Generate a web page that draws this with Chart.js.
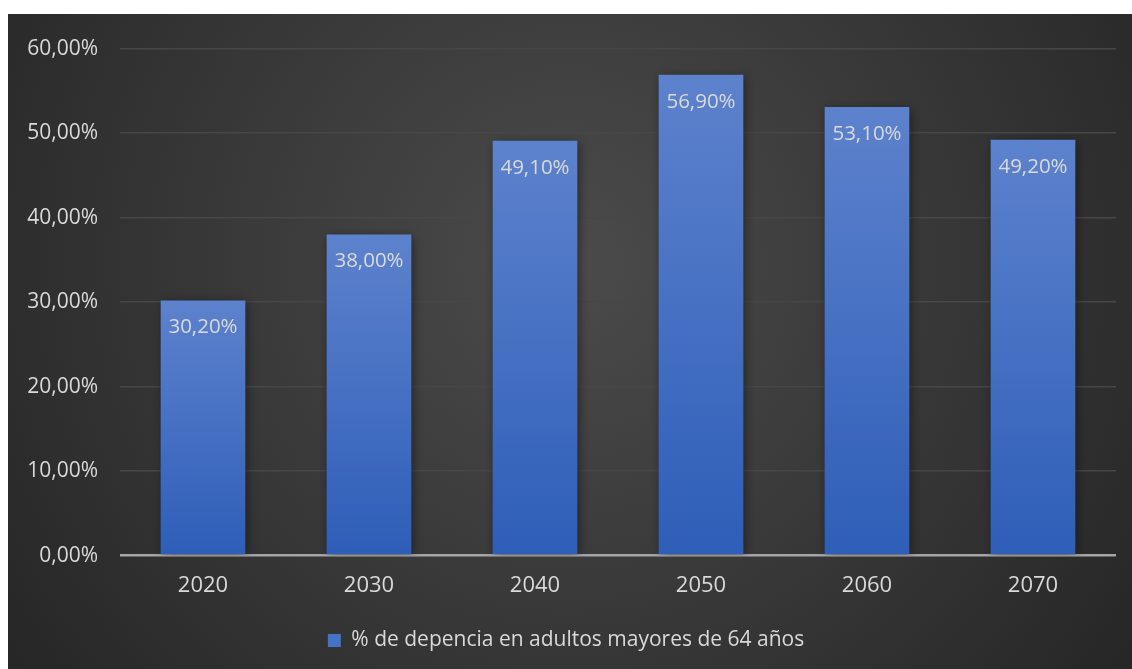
<!DOCTYPE html>
<html>
<head>
<meta charset="utf-8">
<script src="https://cdn.jsdelivr.net/npm/chart.js@4.4.1/dist/chart.umd.min.js"></script>
<style>
  html, body { margin: 0; padding: 0; background: #ffffff; }
  #wrap { position: absolute; left: 8px; top: 14px; width: 1124px; height: 655px; }
</style>
</head>
<body>
<div id="wrap"><canvas id="chart"></canvas></div>
<script>
// chart data
const years = ["2020", "2030", "2040", "2050", "2060", "2070"];
const dependencia = [30.2, 38.0, 49.1, 56.9, 53.1, 49.2];
const seriesName = "% de depencia en adultos mayores de 64 años";
const yTicks = [0, 10, 20, 30, 40, 50, 60];

const textColor = "#d9d9d9";
const fontFamily = "'Open Sans', 'Noto Sans', sans-serif";

const fmt = (v) => v.toFixed(2).replace(".", ",") + "%";

// dark radial background like the Excel style
const bgPlugin = {
  id: "bg",
  beforeDraw(chart) {
    const { ctx, width, height } = chart;
    const g = ctx.createRadialGradient(width * 0.5, height * 0.38, 0, width * 0.5, height * 0.38, width * 0.62);
    g.addColorStop(0, "#4b4b4b");
    g.addColorStop(1, "#262626");
    ctx.save();
    ctx.fillStyle = g;
    ctx.fillRect(0, 0, width, height);
    ctx.restore();
  },
};

// soft shadow behind the bars
const shadowPlugin = {
  id: "barShadow",
  beforeDatasetsDraw(chart) {
    const ctx = chart.ctx;
    ctx.save();
    ctx.shadowColor = "rgba(0,0,0,0.45)";
    ctx.shadowBlur = 10;
    ctx.shadowOffsetX = 2;
    ctx.shadowOffsetY = 2;
  },
  afterDatasetsDraw(chart) {
    chart.ctx.restore();
  },
};

// value labels inside the bar top
const labelPlugin = {
  id: "barLabels",
  afterDatasetsDraw(chart) {
    const ctx = chart.ctx;
    const meta = chart.getDatasetMeta(0);
    ctx.save();
    ctx.fillStyle = textColor;
    ctx.font = "20.5px " + fontFamily;
    ctx.textAlign = "center";
    ctx.textBaseline = "middle";
    meta.data.forEach((bar, i) => {
      ctx.fillText(fmt(dependencia[i]), bar.x, bar.y + 27);
    });
    ctx.restore();
  },
};

const ctx = document.getElementById("chart").getContext("2d");

new Chart(ctx, {
  type: "bar",
  data: {
    labels: years,
    datasets: [
      {
        label: seriesName,
        data: dependencia,
        backgroundColor: (context) => {
          const chart = context.chart;
          const area = chart.chartArea;
          if (!area || context.type !== "data") return "#4472c4";
          const top = chart.scales.y.getPixelForValue(context.parsed.y);
          const g = chart.ctx.createLinearGradient(0, top, 0, area.bottom);
          g.addColorStop(0, "#5d82cd");
          g.addColorStop(1, "#2e5eb8");
          return g;
        },
        borderWidth: 0,
        categoryPercentage: 1.0,
        barPercentage: 0.51,
      },
    ],
  },
  options: {
    responsive: true,
    maintainAspectRatio: false,
    animation: false,
    layout: {
      autoPadding: false,
      padding: { left: 8, right: 16, top: 24, bottom: 8 },
    },
    scales: {
      x: {
        grid: { display: false },
        border: { display: false },
        ticks: {
          color: textColor,
          font: { family: fontFamily, size: 22 },
          padding: 9,
        },
      },
      y: {
        min: 0,
        max: 60,
        afterBuildTicks: (scale) => {
          scale.ticks = yTicks.map((v) => ({ value: v }));
        },
        afterFit: (scale) => {
          scale.width = 104;
        },
        border: { display: false },
        grid: {
          color: (c) => (c.tick && c.tick.value === 0 ? "#a6a6a6" : "#474747"),
          lineWidth: (c) => (c.tick && c.tick.value === 0 ? 2.5 : 1.5),
          drawTicks: false,
        },
        ticks: {
          color: textColor,
          font: { family: fontFamily, size: 21 },
          padding: 22,
          callback: (v) => fmt(v),
        },
      },
    },
    plugins: {
      legend: {
        position: "bottom",
        labels: {
          color: textColor,
          font: { family: fontFamily, size: 21 },
          boxWidth: 13,
          boxHeight: 13,
          padding: 22,
          generateLabels: (chart) => [
            {
              text: seriesName,
              fillStyle: "#4472c4",
              strokeStyle: "#4472c4",
              lineWidth: 0,
              hidden: false,
              datasetIndex: 0,
              fontColor: textColor,
            },
          ],
        },
      },
      tooltip: { enabled: false },
    },
  },
  plugins: [bgPlugin, shadowPlugin, labelPlugin],
});
</script>
</body>
</html>
